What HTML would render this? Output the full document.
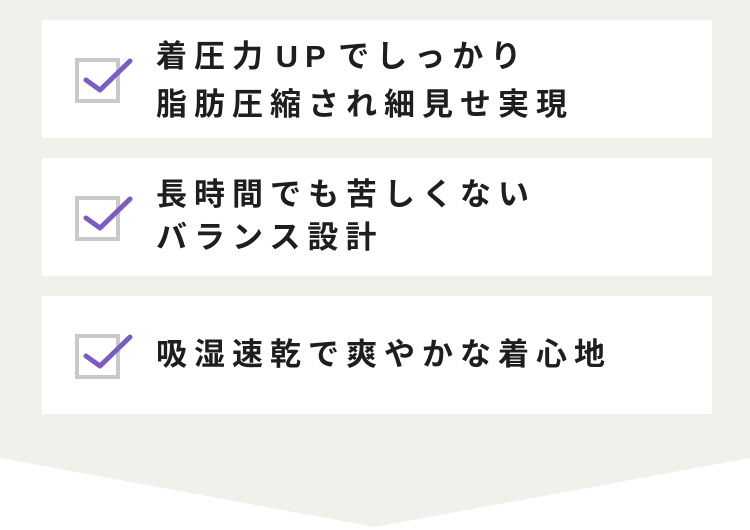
<!DOCTYPE html>
<html><head><meta charset="utf-8"><style>
html,body{margin:0;padding:0;background:#fff;}
body{width:750px;height:530px;position:relative;overflow:hidden;font-family:"Liberation Sans","Noto Sans CJK JP",sans-serif;}
.bg{position:absolute;left:0;top:0;width:750px;height:530px;}
.card{position:absolute;left:42px;width:670px;height:118px;background:#fff;}
.cb{position:absolute;left:33px;top:38px;width:37px;height:37px;border:4px solid #c9c9c9;}
.ck{position:absolute;left:0;top:0;}
.t{position:absolute;left:114px;font-size:31px;font-weight:bold;color:#1e1e1e;letter-spacing:7px;line-height:43px;white-space:nowrap;}
.s{letter-spacing:0;font-size:20px;}
</style></head><body>
<svg class="bg" width="750" height="530"><polygon points="0,0 750,0 750,458 375,527 0,458" fill="#f2f0eb"/></svg>
<div class="card" style="top:20px"><div class="cb"></div>
<svg class="ck" width="120" height="118"><polyline points="44,60 58,70 88,41" fill="none" stroke="#7b5cc4" stroke-width="5" stroke-linecap="round" stroke-linejoin="round"/></svg>
<div class="t" style="top:15px">着圧力<span class="s"> </span>UP<span class="s"> </span>でしっかり<br>脂肪圧縮され細見せ実現</div></div>
<div class="card" style="top:158px"><div class="cb"></div>
<svg class="ck" width="120" height="118"><polyline points="44,60 58,70 88,41" fill="none" stroke="#7b5cc4" stroke-width="5" stroke-linecap="round" stroke-linejoin="round"/></svg>
<div class="t" style="top:15px">長時間でも苦しくない<br>バランス設計</div></div>
<div class="card" style="top:296px"><div class="cb"></div>
<svg class="ck" width="120" height="118"><polyline points="44,60 58,70 88,41" fill="none" stroke="#7b5cc4" stroke-width="5" stroke-linecap="round" stroke-linejoin="round"/></svg>
<div class="t" style="top:37px">吸湿速乾で爽やかな着心地</div></div>
</body></html>
